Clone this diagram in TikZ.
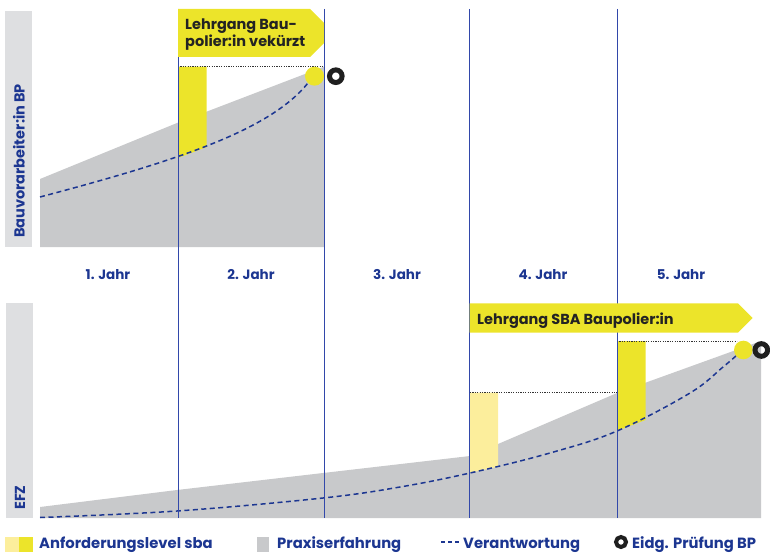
\documentclass[tikz,border=0pt]{standalone}
\usepackage{fontspec}
\setmainfont{Poppins}
\usetikzlibrary{positioning}
\definecolor{sbablue}{RGB}{28,54,145}
\definecolor{sbaline}{RGB}{50,72,170}
\definecolor{sbayellow}{RGB}{236,228,42}
\definecolor{sbalight}{RGB}{252,238,156}
\definecolor{sbagray}{RGB}{200,201,203}
\definecolor{sbapale}{RGB}{222,223,225}
\definecolor{sbadark}{RGB}{35,35,35}

\begin{document}
\begin{tikzpicture}[x=1pt,y=-1pt]
    \tikzstyle{yearlabel}=[font=\bfseries\fontsize{13.5}{15}\selectfont, text=sbablue, anchor=base, inner sep=0pt]
    \tikzstyle{sidelabel}=[font=\bfseries\fontsize{14.5}{16}\selectfont, text=sbablue, rotate=90, anchor=west, inner sep=0pt]
    \tikzstyle{keylabel}=[font=\bfseries\fontsize{14.8}{16}\selectfont, text=sbablue, anchor=base west, inner sep=0pt]
    \tikzstyle{bannertext}=[font=\bfseries\fontsize{14.5}{17.5}\selectfont, text=sbadark, align=left, inner sep=0pt]
    \tikzstyle{yearline}=[sbaline, line width=1pt]
    \tikzstyle{duty}=[sbablue, line width=1.5pt, dash pattern=on 5pt off 3.5pt]
    \tikzstyle{levelline}=[black!80, line width=0.6pt, dash pattern=on 1.2pt off 1.2pt]
    \tikzstyle{exam}=[draw=black!88, line width=5pt]

    \useasboundingbox (0,0) rectangle (770,553);

    \fill[sbapale] (5,11) rectangle (32,247);
    \fill[sbapale] (6,303) rectangle (33,518);
    \node[sidelabel] (bp) at (19,238) {Bauvorarbeiter:in BP};
    \node[sidelabel] (efz) at (20,510) {EFZ};

    \fill[sbagray] (40,247) -- (40,179) -- (177,123) -- (324,66.7) -- (324,247) -- cycle;
    \fill[sbagray] (40,518) -- (40,507) -- (177,490) -- (323,473) -- (470,456) -- (617,393) -- (761,341) -- (761,518) -- cycle;

    \fill[sbayellow] (178,66.7) -- (206.7,66.7) -- (206.7,147) -- (178,158) -- cycle;
    \fill[sbalight] (470,392.7) -- (498,392.7) -- (498,466.7) -- (470,472.7) -- cycle;
    \fill[sbayellow] (617,341) -- (645.5,341) -- (645.5,420) -- (617,430.7) -- cycle;

    \draw[levelline] (178,66.7) -- (324,66.7);
    \draw[levelline] (470,392.7) -- (617,392.7);
    \draw[levelline] (617,341) -- (737,341);

    \draw[duty] (40,197) .. controls (180,160) and (270,130) .. (308,83);
    \draw[duty] plot[smooth, tension=0.6] coordinates {(40,517.5) (177,511) (323,498) (400,487) (470,473) (550,453) (617,431) (690,393) (723,367) (737,355)};

    \fill[sbayellow] (314.5,76.2) circle (9.5);
    \fill[sbayellow] (743.3,350) circle (9.3);
    \draw[exam] (335.8,76.2) circle (6.3);
    \draw[exam] (761.3,350) circle (6.3);

    \foreach \x in {178,324,469.5,617}
        \draw[yearline] (\x,9) -- (\x,518);

    \fill[sbayellow] (178,9) -- (310,9) -- (324,23) -- (324,43) -- (310,57) -- (178,57) -- cycle;
    \node[bannertext, anchor=north west] (short) at (185,18.5) {Lehrgang Bau-\\polier:in vekürzt};
    \fill[sbayellow] (469.5,303.3) -- (738,303.3) -- (752.5,318) -- (738,332.7) -- (469.5,332.7) -- cycle;
    \node[bannertext, anchor=base west] (full) at (477,324) {Lehrgang SBA Baupolier:in};

    \foreach \x/\n in {108/1,251/2,397/3,543/4,681/5}
        \node[yearlabel] (year\n) at (\x,279.3) {\n. Jahr};

    \fill[sbalight] (5,536.5) rectangle (19,551.5);
    \fill[sbayellow] (19,536.5) rectangle (33,551.5);
    \node[keylabel] (keylevel) at (39,548) {Anforderungslevel sba};
    \fill[sbagray] (257,536.5) rectangle (269,551.5);
    \node[keylabel] (keypraxis) at (277,548) {Praxiserfahrung};
    \draw[sbablue, line width=1.5pt, dash pattern=on 4pt off 3pt] (441,542) -- (460,542);
    \node[keylabel] (keyduty) at (463,548) {Verantwortung};
    \draw[draw=black!88, line width=4pt] (621,542) circle (5);
    \node[keylabel] (keyexam) at (632,548) {Eidg. Prüfung BP};
\end{tikzpicture}
\end{document}
